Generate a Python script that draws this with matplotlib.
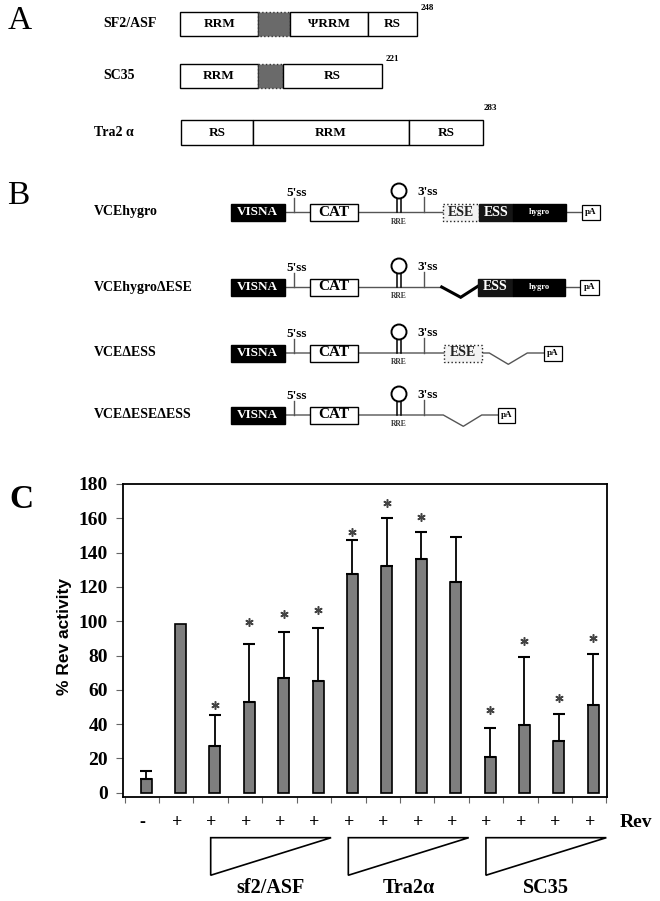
import matplotlib
matplotlib.use('Agg')
import matplotlib.pyplot as plt
from matplotlib.patches import Rectangle, Polygon, Circle
import matplotlib.transforms as mtransforms
import numpy as np

# ---------------- Panel C data ----------------
rev_signs = ['-', '+', '+', '+', '+', '+', '+', '+', '+', '+', '+', '+', '+', '+']
rev_activity = [8.0, 98.5, 27.2, 52.6, 67.1, 65.4, 127.6, 132.1, 136.3, 123.0, 20.8, 39.4, 30.3, 51.4]
error_top = [12.4, None, 45.2, 86.7, 93.7, 96.2, 147.6, 160.4, 152.0, 149.3, 38.0, 79.1, 45.8, 80.7]
star_height = [None, None, 51.0, 99.5, 104.0, 106.3, 151.8, 169.0, 160.6, None, 48.5, 88.4, 55.5, 90.4]
group_names = ['sf2/ASF', 'Tra2α', 'SC35']
group_members = [[2, 3, 4, 5], [6, 7, 8, 9], [10, 11, 12, 13]]
y_ticks = [0, 20, 40, 60, 80, 100, 120, 140, 160, 180]

# ---------------- Panel A data ----------------
protein_names = ['SF2/ASF', 'SC35', 'Tra2 α']
protein_lengths = [248, 221, 283]
protein_domains = [['RRM', '', 'ΨRRM', 'RS'], ['RRM', '', 'RS'], ['RS', 'RRM', 'RS']]

# ---------------- Panel B data ----------------
construct_names = ['VCEhygro', 'VCEhygroΔESE', 'VCEΔESS', 'VCEΔESEΔESS']

SERIF = ['Liberation Serif', 'DejaVu Serif']
SANS = ['Liberation Sans', 'DejaVu Sans']

fig = plt.figure(figsize=(6.6, 9.01), dpi=100)

# overlay axes in pixel units for the schematic panels
dax = fig.add_axes([0, 0, 1, 1])
dax.set_xlim(0, 660)
dax.set_ylim(901, 0)
dax.axis('off')


def box(x0, x1, yc, h, fc, ec='black', lw=1.0, ls='-', z=3):
    dax.add_patch(Rectangle((x0, yc - h / 2), x1 - x0, h, facecolor=fc,
                            edgecolor=ec, lw=lw, linestyle=ls, zorder=z))


def t(x, y, s, size, color='black', ha='center', va='center', weight='bold', fam=SERIF, **kw):
    dax.text(x, y, s, fontsize=size, color=color, ha=ha, va=va,
             fontweight=weight, family=fam, zorder=6, **kw)


# panel letters
t(20, 21, 'A', 24, weight='normal')
t(18, 196, 'B', 24, weight='normal')
t(21, 500, 'C', 24, weight='bold')

# ---------------- Panel A ----------------
layout_A = [
    dict(y=23.7, h=24, edges=[180, 258.3, 290, 367.7, 416.7], lx=103, len_xy=(421, 8)),
    dict(y=75.8, h=24, edges=[180, 257.7, 282.7, 382.3], lx=103, len_xy=(386, 59)),
    dict(y=132.7, h=25, edges=[180.8, 253, 408.8, 482.7], lx=93.5, len_xy=(484, 108)),
]
for name, length, doms, L in zip(protein_names, protein_lengths, protein_domains, layout_A):
    t(L['lx'], L['y'], name, 10, ha='left')
    e = L['edges']
    for i, d in enumerate(doms):
        if d == '':
            box(e[i], e[i + 1], L['y'], L['h'], '#6a6a6a', ec='#333333', lw=1.0, ls=':')
        else:
            box(e[i], e[i + 1], L['y'], L['h'], 'white', lw=1.0)
            t((e[i] + e[i + 1]) / 2, L['y'], d, 9.5)
    t(L['len_xy'][0], L['len_xy'][1], str(length), 6.5, ha='left')

# ---------------- Panel B ----------------
row_y = [212, 287, 353, 415]
GRAY = '#555555'
row_paths = [
    [[(284.5, 0), (581.7, 0)]],
    [[(284.5, 0), (441.7, 0)], [(565, 0), (580, 0)]],
    [[(284.5, 0), (489.3, 0), (508.3, 11.3), (527.3, 0), (544, 0)]],
    [[(284.5, 0), (443.3, 0), (463.3, 11.3), (481.7, 0), (497.7, 0)]],
]
thick_v = [None, [(441.7, 0), (460.7, 10.3), (478.3, -1)], None, None]
row_boxes = [
    [(443.3, 479.3, 'ESE'), (479.3, 513.3, 'ESS'), (513.3, 566, 'hygro'), (581.7, 600, 'pA')],
    [(478.3, 513, 'ESS'), (513, 565, 'hygro'), (580, 599, 'pA')],
    [(444.3, 481.7, 'ESE'), (544, 561.7, 'pA')],
    [(497.7, 515.3, 'pA')],
]

for name, y0, paths, tv, boxes in zip(construct_names, row_y, row_paths, thick_v, row_boxes):
    t(94, y0, name, 10, ha='left')
    for p in paths:
        xs = [q[0] for q in p]
        ys = [y0 + q[1] for q in p]
        dax.plot(xs, ys, color=GRAY, lw=1.0, zorder=2)
    if tv is not None:
        dax.plot([q[0] for q in tv], [y0 + q[1] for q in tv], color='black', lw=2.2,
                 zorder=2, solid_joinstyle='miter')
    # VISNA & CAT
    box(230.7, 284.5, y0, 17, 'black')
    t(257.6, y0, 'VISNA', 9.5, color='white')
    box(310, 358, y0, 17, 'white', lw=1.0)
    t(334, y0, 'CAT', 11)
    # 5'ss
    dax.plot([294.3, 294.3], [y0, y0 - 14], color=GRAY, lw=1.0, zorder=2)
    t(297, y0 - 16, "5'ss", 9.5, va='baseline')
    # RRE stem loop
    dax.plot([397, 397], [y0, y0 - 14], color='black', lw=1.1, zorder=2)
    dax.plot([401, 401], [y0, y0 - 14], color='black', lw=1.1, zorder=2)
    dax.add_patch(Circle((399, y0 - 21), 7.5, facecolor='white', edgecolor='black', lw=1.4, zorder=3))
    t(399, y0 + 9.5, 'RRE', 5.5, color='#333333')
    # 3'ss
    dax.plot([424, 424], [y0, y0 - 15], color=GRAY, lw=1.0, zorder=2)
    t(428, y0 - 17, "3'ss", 9.5, va='baseline')
    for x0, x1, kind in boxes:
        if kind == 'ESE':
            box(x0, x1, y0, 17, '#f3f3f3', ec='#222222', lw=1.0, ls=':')
            t((x0 + x1) / 2, y0, 'ESE', 10, color='#222222')
        elif kind == 'ESS':
            box(x0, x1, y0, 17, '#151515', ec='#151515')
            t((x0 + x1) / 2, y0, 'ESS', 10, color='white')
        elif kind == 'hygro':
            box(x0, x1, y0, 17, 'black', ec='black')
            t((x0 + x1) / 2, y0, 'hygro', 6, color='white')
        else:
            box(x0, x1, y0, 15, 'white', lw=0.9)
            t((x0 + x1) / 2, y0, 'pA', 6.5)

# ---------------- Panel C ----------------
ax = fig.add_axes([123.3 / 660, 1 - 797 / 901, (606.7 - 123.3) / 660, (797 - 484) / 901])
x = np.arange(len(rev_activity))
ax.bar(x, rev_activity, width=0.32, color='#7e7e7e', edgecolor='black', linewidth=1.2, zorder=3)
ex = [i for i, e in enumerate(error_top) if e is not None]
ev = [rev_activity[i] for i in ex]
eu = [error_top[i] - rev_activity[i] for i in ex]
ax.errorbar(ex, ev, yerr=[np.zeros(len(ex)), eu], fmt='none', ecolor='black',
            elinewidth=1.3, capsize=4.5, capthick=1.5, zorder=4)
sx = [i for i, s in enumerate(star_height) if s is not None]
sy = [star_height[i] for i in sx]
ax.plot(sx, sy, ls='none', marker=(6, 2, 0), ms=6, mew=1.1, color='#444444', zorder=5)

ax.set_xlim(-0.66, 13.39)
ax.set_ylim(-2.5, 180)
ax.set_yticks(y_ticks)
ax.set_yticklabels([str(v) for v in y_ticks], fontsize=14, fontweight='bold', family=SERIF)
ax.set_xticks([k + 0.38 for k in range(-1, 14)])
ax.set_xticklabels([])
ax.tick_params(axis='x', direction='out', length=4, width=0.8, color='#666666')
ax.tick_params(axis='y', direction='out', length=5, width=0.8, color='#666666', pad=6)
for sp in ax.spines.values():
    sp.set_linewidth(1.3)
    sp.set_color('black')

blend = mtransforms.blended_transform_factory(ax.transData, ax.transAxes)
for i, s in enumerate(rev_signs):
    ax.text(i - 0.1, -0.0824, s, transform=blend, ha='center', va='center', fontsize=13,
            fontweight='bold', family=SERIF, clip_on=False)
ax.text(13.78, -0.0824, 'Rev', transform=blend, ha='left', va='center', fontsize=14,
        fontweight='bold', family=SERIF, clip_on=False)
for gname, mem in zip(group_names, group_members):
    left = mem[0] - 0.12
    right = mem[-1] + 0.38
    ax.add_patch(Polygon([(left, -0.13), (right, -0.13), (left, -0.25)], closed=True,
                         facecolor='white', edgecolor='black', lw=1.2, transform=blend,
                         clip_on=False))
    ax.text((left + right) / 2, -0.291, gname, transform=blend, ha='center', va='center',
            fontsize=14.5, fontweight='bold', family=SERIF, clip_on=False)

fig.text(65 / 660, 1 - 636.7 / 901, '% Rev activity', rotation=90, ha='center', va='center',
         fontsize=12.5, fontweight='bold', family=SANS)

fig.savefig('out.png', dpi=100)
